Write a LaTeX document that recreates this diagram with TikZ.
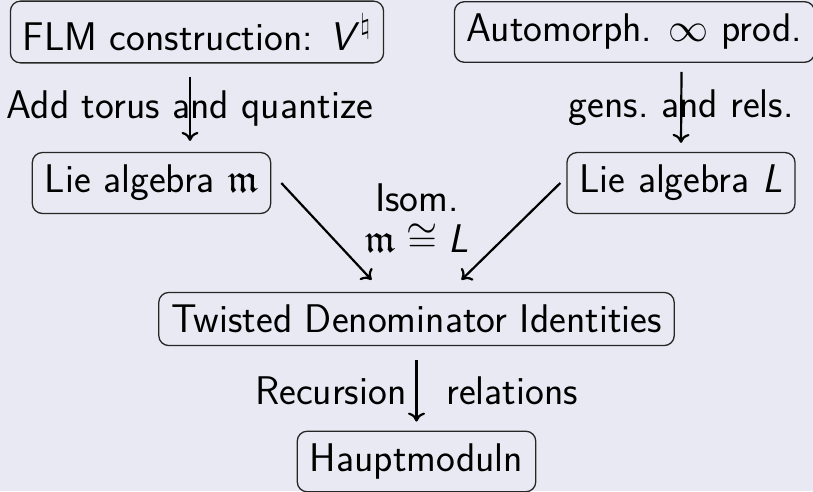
\RequirePackage{fix-cm}
\documentclass[tikz,border=0pt]{standalone}
\usepackage{amssymb}
\DeclareFontFamily{U}{euf}{}
\DeclareFontShape{U}{euf}{m}{n}{<-> eufm10}{}
\DeclareFontShape{U}{euf}{b}{n}{<-> eufb10}{}
\usetikzlibrary{arrows.meta}
\definecolor{bgcol}{RGB}{233,233,243}
\tikzset{
  box/.style={draw=black!85, line width=1.3pt, rounded corners=10pt, inner xsep=12.5pt, inner ysep=12.5pt},
  arr/.style={line width=2.2pt, -{Computer Modern Rightarrow[width=17pt,length=9pt,line width=2.2pt]}},
  lbl/.style={inner sep=0pt},
}
\begin{document}
\begin{tikzpicture}[x=1pt,y=-1pt,font=\fontsize{40}{41}\selectfont\sffamily]
\fill[bgcol] (0,0) rectangle (813,491);
\useasboundingbox (0,0) rectangle (813,491);
\node[box] (flm) at (197,32) {FLM construction: $\textsl{V\/}^{\natural}$};
\node[box] (aut) at (634.5,32) {Automorph. $\infty$ prod.};
\node[box] (liem) at (151.5,183) {Lie algebra $\mathfrak{m}$};
\node[box] (liel) at (681,183) {Lie algebra $\textsl{L}$};
\node[box] (tdi) at (416.5,319) {Twisted Denominator Identities};
\node[box] (hm) at (416.5,461.5) {Hauptmoduln};
\node[align=center] (iso) at (417,218) {Isom.\\ $\mathfrak{m}\cong\textsl{L}$};
\draw[arr] ([xshift=-7pt,yshift=-13pt]flm.south) -- node[lbl]{Add torus and quantize} ([xshift=38.5pt,yshift=11pt]liem.north);
\draw[arr] ([xshift=47pt,yshift=-9pt]aut.south) -- node[lbl]{gens.\ and rels.} ([yshift=9pt]liel.north);
\draw[arr] ([xshift=10pt]liem.east) -- ([xshift=-45pt,yshift=12pt]tdi.north);
\draw[arr] ([xshift=-6pt]liel.west) -- ([xshift=45pt,yshift=12pt]tdi.north);
\draw[arr] ([yshift=-14pt]tdi.south) -- node[lbl]{Recursion\quad relations} ([yshift=9pt]hm.north);
\end{tikzpicture}
\end{document}
